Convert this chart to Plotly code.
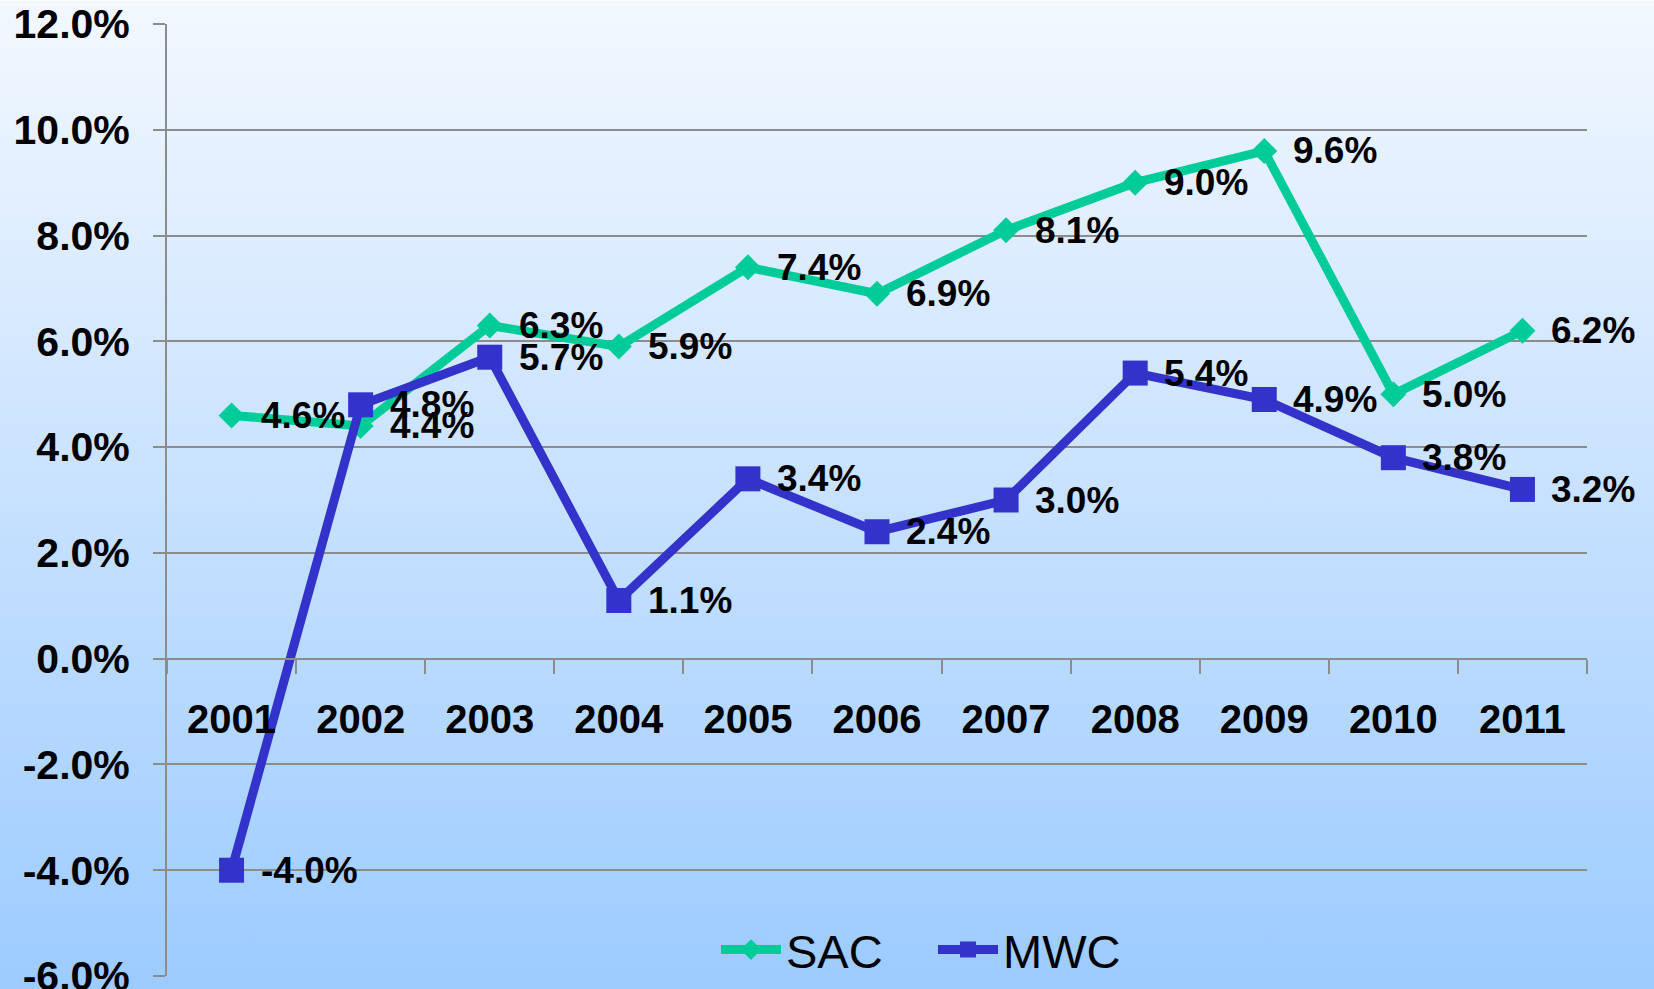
import base64
import plotly.graph_objects as go

years = ["2001", "2002", "2003", "2004", "2005", "2006", "2007", "2008", "2009", "2010", "2011"]
sac = [4.6, 4.4, 6.3, 5.9, 7.4, 6.9, 8.1, 9.0, 9.6, 5.0, 6.2]
mwc = [-4.0, 4.8, 5.7, 1.1, 3.4, 2.4, 3.0, 5.4, 4.9, 3.8, 3.2]
y_ticks = [-6, -4, -2, 0, 2, 4, 6, 8, 10, 12]
y_tick_labels = ["-6.0%", "-4.0%", "-2.0%", "0.0%", "2.0%", "4.0%", "6.0%", "8.0%", "10.0%", "12.0%"]

GREEN = "#00CC99"
BLUE = "#3333CC"
GRID = "#8C8C8C"
FONT = "Liberation Sans, Arial, sans-serif"

W, H = 1654, 989
L, R, T, B = 167, 67, 23.5, 13
pw = W - L - R
ph = H - T - B

fig = go.Figure()
fig.add_trace(go.Scatter(
    x=years, y=sac, name="SAC", mode="lines+markers",
    line=dict(color=GREEN, width=9),
    marker=dict(symbol="diamond", size=20, color=GREEN),
))
fig.add_trace(go.Scatter(
    x=years, y=mwc, name="MWC", mode="lines+markers",
    line=dict(color=BLUE, width=9),
    marker=dict(symbol="square", size=25, color=BLUE),
))

annotations = []
for series in (sac, mwc):
    for i, yv in enumerate(series):
        annotations.append(dict(
            x=i, y=yv, xref="x", yref="y", text=f"{yv:.1f}%",
            showarrow=False, xanchor="left", yanchor="middle", xshift=27,
            font=dict(family=FONT, size=37, color="black", weight="bold"),
        ))

svg = (
    '<svg xmlns="http://www.w3.org/2000/svg" width="100" height="100" preserveAspectRatio="none">'
    '<defs><linearGradient id="g" x1="0" y1="0" x2="0" y2="1">'
    '<stop offset="0" stop-color="#F3F8FF"/><stop offset="1" stop-color="#9CCBFF"/>'
    '</linearGradient></defs><rect width="100" height="100" fill="url(#g)"/></svg>'
)
src = "data:image/svg+xml;base64," + base64.b64encode(svg.encode()).decode()

fig.update_layout(
    width=W, height=H, autosize=False,
    margin=dict(l=L, r=R, t=T, b=B, pad=0, autoexpand=False),
    paper_bgcolor="rgba(0,0,0,0)",
    plot_bgcolor="rgba(0,0,0,0)",
    showlegend=True,
    legend=dict(
        orientation="h", x=(716 - L) / pw, xanchor="left",
        yref="container", y=(H - 950) / H, yanchor="middle",
        font=dict(family=FONT, size=47, color="black"),
        bgcolor="rgba(0,0,0,0)", itemwidth=60, tracegroupgap=0,
        entrywidth=142, entrywidthmode="pixels",
    ),
    annotations=annotations,
    images=[dict(
        source=src, xref="paper", yref="paper",
        x=-L / pw, y=(H - B) / ph, sizex=W / pw, sizey=H / ph,
        xanchor="left", yanchor="top", sizing="stretch", layer="below",
    )],
)

fig.update_xaxes(
    type="category", range=[-0.5, 10.5],
    anchor="free", position=1 / 3,
    showline=True, linecolor=GRID, linewidth=2,
    showgrid=False, zeroline=False,
    ticks="outside", ticklen=14, tickwidth=2, tickcolor=GRID,
    tickson="boundaries", ticklabelstandoff=25,
    tickfont=dict(family=FONT, size=40, color="black", weight="bold"),
    automargin=False,
)
fig.update_yaxes(
    range=[-6, 12], tickmode="array", tickvals=y_ticks, ticktext=y_tick_labels,
    showline=True, linecolor=GRID, linewidth=2,
    showgrid=True, gridcolor=GRID, gridwidth=2,
    zeroline=False,
    ticks="outside", ticklen=12, tickwidth=2, tickcolor=GRID,
    ticklabelstandoff=15, ticklabeloverflow="allow",
    tickfont=dict(family=FONT, size=41, color="black", weight="bold"),
    automargin=False,
)

fig.write_html(
    "out.html",
    config={"responsive": False, "displayModeBar": False},
    post_script="document.body.style.margin='0';document.body.style.overflow='hidden';",
)
